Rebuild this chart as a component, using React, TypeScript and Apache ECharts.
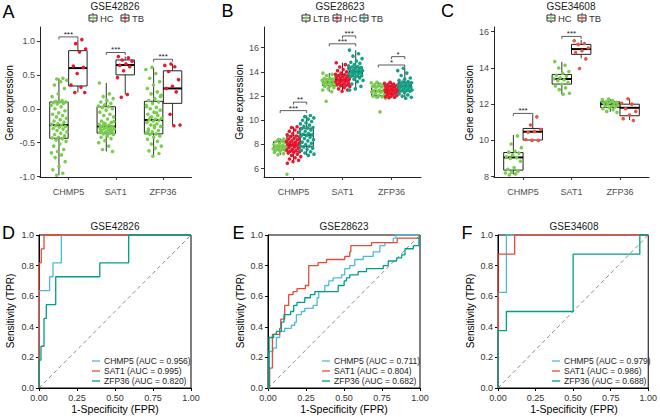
import React, { useEffect, useRef } from "react";
import * as echarts from "echarts";

const FONT = "Liberation Sans, Arial, Helvetica, sans-serif";
const genes = ["CHMP5", "SAT1", "ZFP36"];

// ---------- Panel A: GSE42826 ----------
const aGroups = ["HC", "TB"];
const aHcPts = [
  [0.45, 0.44, 0.42, 0.4, 0.35, 0.3, 0.22, 0.18, 0.12, 0.11, 0.1, 0.1, 0.09, 0.08, 0.07, 0.05, 0.03, 0.0, -0.03, -0.06, -0.08, -0.1, -0.12, -0.14, -0.16, -0.18, -0.2, -0.22, -0.23, -0.24, -0.25, -0.26, -0.27, -0.29, -0.3, -0.32, -0.34, -0.36, -0.38, -0.4, -0.42, -0.43, -0.44, -0.46, -0.48, -0.52, -0.55, -0.6, -0.63, -0.65, -0.68, -0.72, -0.78, -0.85, -0.9, -0.95, -0.98],
  [0.38, 0.22, 0.18, 0.15, 0.12, 0.1, 0.08, 0.06, 0.04, 0.03, 0.02, 0.0, -0.02, -0.05, -0.08, -0.1, -0.12, -0.15, -0.18, -0.2, -0.22, -0.23, -0.24, -0.25, -0.26, -0.26, -0.27, -0.28, -0.29, -0.3, -0.31, -0.32, -0.33, -0.34, -0.35, -0.36, -0.37, -0.38, -0.4, -0.42, -0.44, -0.47, -0.5, -0.55, -0.6, -0.63, -0.27, -0.3, -0.33, -0.21, -0.19, -0.36, -0.35, -0.31],
  [0.61, 0.58, 0.52, 0.45, 0.4, 0.35, 0.3, 0.25, 0.22, 0.2, 0.15, 0.12, 0.1, 0.08, 0.05, 0.02, 0.0, -0.02, -0.05, -0.08, -0.1, -0.12, -0.14, -0.15, -0.16, -0.17, -0.18, -0.2, -0.22, -0.24, -0.26, -0.28, -0.3, -0.32, -0.34, -0.36, -0.37, -0.38, -0.4, -0.42, -0.45, -0.48, -0.52, -0.55, -0.58, -0.62, -0.66, -0.7, 0.03, -0.06, -0.13, 0.18, -0.25, -0.33],
];
const aTbPts = [
  [1.02, 0.96, 0.88, 0.84, 0.63, 0.61, 0.52, 0.35, 0.32, 0.24, 0.24],
  [0.77, 0.75, 0.72, 0.7, 0.66, 0.64, 0.62, 0.56, 0.46, 0.21, 0.17],
  [0.66, 0.64, 0.62, 0.55, 0.43, 0.33, 0.3, 0.25, -0.08, -0.24, -0.25],
];
// [min, q1, median, q3, max]
const aHcBox = [[-0.98, -0.435, -0.24, 0.1, 0.45], [-0.63, -0.36, -0.26, 0.03, 0.38], [-0.7, -0.37, -0.165, 0.11, 0.61]];
const aTbBox = [[0.24, 0.336, 0.6, 0.857, 1.02], [0.21, 0.5, 0.645, 0.72, 0.77], [-0.24, 0.08, 0.3, 0.56, 0.66]];
// [gene, fromGroup, toGroup, y]
const aSig = [[0, 0, 1, 1.06], [1, 0, 1, 0.83], [2, 0, 1, 0.73]];
const aSigLabels = ["***", "***", "***"];
const aTicks = [-1, -0.5, 0, 0.5, 1];

// ---------- Panel B: GSE28623 ----------
const bGroups = ["LTB", "HC", "TB"];
const bLtbPts = [
  [8.45, 8.4, 8.35, 8.3, 8.25, 8.2, 8.1, 8.0, 7.95, 7.9, 7.85, 7.82, 7.8, 7.75, 7.7, 7.65, 7.6, 7.55, 7.5, 7.45, 7.35, 7.25, 7.15, 5.54],
  [13.9, 13.8, 13.7, 13.6, 13.5, 13.45, 13.4, 13.35, 13.3, 13.25, 13.2, 13.15, 13.1, 13.05, 13.0, 12.95, 12.9, 12.85, 12.8, 12.7, 12.6, 12.5, 12.36, 11.57],
  [13.14, 13.1, 13.0, 12.95, 12.9, 12.85, 12.8, 12.75, 12.7, 12.6, 12.5, 12.45, 12.42, 12.4, 12.35, 12.3, 12.2, 12.1, 12.05, 12.0, 11.95, 11.9, 11.82, 10.7],
];
const bHcPts = [
  [9.47, 9.4, 9.3, 9.2, 9.1, 9.0, 8.9, 8.8, 8.7, 8.65, 8.6, 8.5, 8.45, 8.4, 8.3, 8.25, 8.2, 8.15, 8.1, 8.05, 8.0, 7.95, 7.9, 7.85, 7.8, 7.75, 7.7, 7.6, 7.55, 7.5, 7.45, 7.4, 7.35, 7.3, 7.2, 7.1, 7.0, 6.9, 6.8, 6.7, 6.6, 6.45],
  [14.76, 14.6, 14.4, 14.3, 14.2, 14.1, 14.0, 13.9, 13.8, 13.75, 13.7, 13.65, 13.6, 13.55, 13.5, 13.45, 13.4, 13.35, 13.33, 13.3, 13.25, 13.2, 13.15, 13.1, 13.05, 13.0, 12.95, 12.9, 12.85, 12.8, 12.7, 12.6, 12.5, 12.4],
  [13.14, 13.05, 13.0, 12.95, 12.9, 12.85, 12.82, 12.8, 12.75, 12.7, 12.65, 12.6, 12.55, 12.52, 12.5, 12.48, 12.45, 12.4, 12.35, 12.3, 12.28, 12.25, 12.2, 12.15, 12.1, 12.05, 12.0, 11.95, 11.9, 11.87],
];
const bTbPts = [
  [10.4, 10.3, 10.2, 10.1, 10.0, 9.9, 9.8, 9.7, 9.6, 9.5, 9.4, 9.35, 9.3, 9.2, 9.1, 9.0, 8.9, 8.85, 8.8, 8.75, 8.7, 8.6, 8.5, 8.4, 8.3, 8.2, 8.1, 8.0, 7.9, 7.85, 7.8, 7.7, 7.6, 7.5, 7.4, 7.3, 7.2, 7.1],
  [15.8, 15.5, 15.3, 15.1, 14.9, 14.8, 14.7, 14.6, 14.5, 14.45, 14.4, 14.35, 14.3, 14.25, 14.2, 14.15, 14.1, 14.05, 14.0, 13.95, 13.9, 13.85, 13.8, 13.75, 13.7, 13.65, 13.6, 13.5, 13.4, 13.3, 13.2, 13.0, 12.8, 12.6, 12.5],
  [14.3, 14.1, 13.9, 13.7, 13.5, 13.4, 13.3, 13.2, 13.15, 13.1, 13.05, 13.0, 12.95, 12.9, 12.85, 12.83, 12.8, 12.75, 12.7, 12.65, 12.6, 12.55, 12.5, 12.45, 12.42, 12.4, 12.3, 12.2, 12.1, 12.0, 11.9, 11.82],
];
const bLtbBox = [[7.13, 7.54, 7.82, 8.23, 8.5], [12.36, 12.86, 13.14, 13.41, 13.9], [11.82, 12.03, 12.42, 12.78, 13.14]];
const bHcBox = [[6.45, 7.4, 7.95, 8.7, 9.47], [12.37, 12.92, 13.33, 13.74, 14.76], [11.87, 12.23, 12.5, 12.83, 13.14]];
const bTbBox = [[7.1, 7.85, 8.8, 9.35, 10.4], [12.5, 13.6, 14.02, 14.38, 15.8], [11.82, 12.42, 12.83, 13.14, 14.3]];
const bSig = [[0, 0, 2, 10.8], [0, 1, 2, 11.5], [1, 0, 2, 16.32], [1, 1, 2, 16.97], [2, 0, 2, 14.57], [2, 1, 2, 15.26]];
const bSigLabels = ["***", "**", "***", "***", "*", "*"];
const bTicks = [6, 8, 10, 12, 14, 16];

// ---------- Panel C: GSE34608 ----------
const cGroups = ["HC", "TB"];
const cHcPts = [
  [10.25, 9.8, 9.6, 9.4, 9.35, 9.3, 9.2, 9.1, 9.05, 9.0, 8.85, 8.5, 8.4, 8.3, 8.25, 8.2, 8.15, 8.1],
  [14.35, 14.15, 14.0, 13.8, 13.7, 13.6, 13.55, 13.45, 13.4, 13.35, 13.3, 13.2, 13.1, 13.0, 12.9, 12.8, 12.6, 12.55],
  [12.28, 12.25, 12.2, 12.15, 12.1, 12.1, 12.05, 12.0, 12.0, 11.95, 11.9, 11.9, 11.85, 11.8, 11.75, 11.7, 11.6, 11.55],
];
const cTbPts = [
  [11.3, 10.85, 10.6, 10.5, 10.45, 10.0, 10.0, 10.05],
  [15.5, 15.35, 15.3, 15.1, 14.95, 14.85, 14.5, 13.97],
  [12.3, 12.05, 12.0, 11.75, 11.6, 11.4, 11.2, 11.1],
];
const cHcBox = [[8.12, 8.36, 9.06, 9.33, 10.3], [12.54, 13.11, 13.39, 13.64, 14.34], [11.58, 11.82, 12.0, 12.13, 12.28]];
const cTbBox = [[10.0, 10.02, 10.48, 10.66, 11.36], [14.53, 14.75, 15.04, 15.3, 15.54], [11.12, 11.36, 11.8, 12.0, 12.32]];
const cSig = [[0, 0, 1, 11.49], [1, 0, 1, 15.74]];
const cSigLabels = ["***", "***"];
const cTicks = [8, 10, 12, 14, 16];

// ---------- ROC curves (FPR, TPR) ----------
const rocNames = ["CHMP5", "SAT1", "ZFP36"];
const dAuc = ["0.956", "0.995", "0.820"];
const eAuc = ["0.711", "0.804", "0.682"];
const fAuc = ["0.979", "0.986", "0.688"];
const dChmp5 = [[0, 0], [0, 0.636], [0.07, 0.727], [0.092, 0.818], [0.147, 1], [1, 1]];
const dSat1 = [[0, 0], [0, 0.818], [0.015, 0.909], [0.033, 1], [1, 1]];
const dZfp36 = [[0, 0], [0, 0.182], [0.013, 0.273], [0.033, 0.455], [0.048, 0.545], [0.11, 0.727], [0.4, 0.818], [0.59, 1], [1, 1]];
const eChmp5 = [[0, 0], [0.007, 0.24], [0.033, 0.26], [0.055, 0.33], [0.077, 0.37], [0.11, 0.39], [0.154, 0.41], [0.176, 0.43], [0.187, 0.48], [0.22, 0.5], [0.242, 0.52], [0.297, 0.54], [0.323, 0.59], [0.334, 0.63], [0.374, 0.67], [0.4, 0.7], [0.429, 0.72], [0.484, 0.74], [0.505, 0.78], [0.538, 0.8], [0.571, 0.84], [0.626, 0.86], [0.692, 0.89], [0.736, 0.93], [0.769, 0.95], [0.824, 0.98], [0.842, 1], [1, 1]];
const eSat1 = [[0, 0], [0.011, 0.13], [0.029, 0.35], [0.077, 0.39], [0.084, 0.45], [0.11, 0.54], [0.136, 0.61], [0.165, 0.63], [0.191, 0.65], [0.246, 0.67], [0.268, 0.8], [0.33, 0.82], [0.385, 0.84], [0.505, 0.86], [0.538, 0.89], [0.545, 0.93], [0.681, 0.95], [0.85, 0.98], [0.996, 1], [1, 1]];
const eZfp36 = [[0, 0], [0.007, 0.33], [0.037, 0.35], [0.055, 0.37], [0.088, 0.43], [0.105, 0.48], [0.149, 0.5], [0.169, 0.54], [0.191, 0.56], [0.242, 0.59], [0.279, 0.61], [0.308, 0.63], [0.462, 0.67], [0.501, 0.7], [0.516, 0.72], [0.538, 0.74], [0.593, 0.76], [0.648, 0.78], [0.758, 0.8], [0.791, 0.83], [0.846, 0.85], [0.879, 0.87], [0.901, 0.91], [0.956, 0.93], [0.993, 0.98], [1, 1]];
const fChmp5 = [[0, 0], [0, 0.625], [0.056, 1], [1, 1]];
const fSat1 = [[0, 0], [0, 0.875], [0.111, 1], [1, 1]];
const fZfp36 = [[0, 0], [0, 0.375], [0.056, 0.5], [0.5, 0.875], [0.944, 1], [1, 1]];

const GREEN = "#7ACC4E";
const RED = "#E8162E";
const TEAL = "#13A085";
const CRED = "#EE5240";
const ROC_COLORS = ["#4DBBD5", "#E64B35", "#00A087"];

const jit = (i: number, w: number) => ((((i + 1) * 0.6180339887 + 0.13) % 1) - 0.5) * w;

function boxRender(_params: any, api: any) {
  const x = api.value(0);
  const w = api.value(6);
  const c = (v: number) => api.coord([x, v]);
  const cx = c(api.value(1))[0];
  const yMin = c(api.value(1))[1];
  const yQ1 = c(api.value(2))[1];
  const yMed = c(api.value(3))[1];
  const yQ3 = c(api.value(4))[1];
  const yMax = c(api.value(5))[1];
  const hw = api.size([w, 0])[0] / 2;
  const st = { stroke: "#333", lineWidth: 1 };
  return {
    type: "group",
    children: [
      { type: "line", shape: { x1: cx, y1: yQ3, x2: cx, y2: yMax }, style: st },
      { type: "line", shape: { x1: cx, y1: yQ1, x2: cx, y2: yMin }, style: st },
      { type: "rect", shape: { x: cx - hw, y: yQ3, width: 2 * hw, height: yQ1 - yQ3 }, style: { fill: "none", stroke: "#222", lineWidth: 1 } },
      { type: "line", shape: { x1: cx - hw, y1: yMed, x2: cx + hw, y2: yMed }, style: { stroke: "#000", lineWidth: 2 } },
    ],
  };
}

function makeSigRender(labels: string[]) {
  return (params: any, api: any) => {
    const p1 = api.coord([api.value(0), api.value(2)]);
    const p2 = api.coord([api.value(1), api.value(2)]);
    return {
      type: "group",
      children: [
        {
          type: "polyline",
          shape: { points: [[p1[0], p1[1] + 2.5], [p1[0], p1[1]], [p2[0], p2[1]], [p2[0], p2[1] + 2.5]] },
          style: { fill: "none", stroke: "#333", lineWidth: 0.8 },
        },
        {
          type: "text",
          x: (p1[0] + p2[0]) / 2,
          y: p1[1] - 2.5,
          style: { text: labels[params.dataIndex], align: "center", verticalAlign: "middle", textAlign: "center", textVerticalAlign: "middle", fontSize: 8, fontFamily: FONT, fill: "#222" },
        },
      ],
    };
  };
}

function boxPanel(
  gi: number,
  boxes: number[][][],
  pts: number[][][],
  colors: string[],
  offsets: number[],
  boxW: number,
  jw: number,
  sig: number[][],
  sigLabels: string[]
) {
  const series: any[] = [];
  const boxData: number[][] = [];
  boxes.forEach((grp, g) => grp.forEach((s, k) => boxData.push([k + 1 + offsets[g], ...s, boxW])));
  series.push({ type: "custom", xAxisIndex: gi, yAxisIndex: gi, renderItem: boxRender, data: boxData, z: 2, silent: true, clip: false });
  pts.forEach((grp, g) => {
    const data: number[][] = [];
    grp.forEach((vals, k) => vals.forEach((v, i) => data.push([k + 1 + offsets[g] + jit(i + k * 7, jw), v])));
    series.push({ type: "scatter", xAxisIndex: gi, yAxisIndex: gi, data, symbolSize: 3.6, itemStyle: { color: colors[g], opacity: 1 }, z: 3, silent: true });
  });
  const sigData = sig.map((s) => [s[0] + 1 + offsets[s[1]], s[0] + 1 + offsets[s[2]], s[3]]);
  series.push({ type: "custom", xAxisIndex: gi, yAxisIndex: gi, renderItem: makeSigRender(sigLabels), data: sigData, z: 4, silent: true, clip: false });
  return series;
}

function boxAxes(gi: number, ymin: number, ymax: number, ticks: number[], dec: number) {
  const xAxis = {
    type: "value", gridIndex: gi, min: 0.4, max: 3.6,
    axisLine: { show: true, onZero: false, lineStyle: { color: "#222", width: 1 } },
    axisTick: { show: true, customValues: [1, 2, 3], length: 3, lineStyle: { color: "#333" } },
    axisLabel: { show: true, customValues: [1, 2, 3], formatter: (v: number) => genes[Math.round(v) - 1], color: "#4D4D4D", fontSize: 9, fontFamily: FONT, margin: 10 },
    splitLine: { show: false },
  };
  const yAxis = {
    type: "value", gridIndex: gi, min: ymin, max: ymax,
    axisLine: { show: true, onZero: false, lineStyle: { color: "#222", width: 1 } },
    axisTick: { show: true, customValues: ticks, length: 3, lineStyle: { color: "#333" } },
    axisLabel: { show: true, customValues: ticks, formatter: (v: number) => v.toFixed(dec), color: "#4D4D4D", fontSize: 9, fontFamily: FONT, margin: 5 },
    splitLine: { show: false },
  };
  return { xAxis, yAxis };
}

function rocAxes(gi: number) {
  const common = {
    type: "value", gridIndex: gi, min: 0, max: 1,
    axisLine: { show: true, onZero: false, lineStyle: { color: "#000", width: 1 } },
    axisTick: { show: true, length: 3, lineStyle: { color: "#000" } },
    splitLine: { show: false },
  };
  return {
    xAxis: { ...common, interval: 0.25, axisLabel: { formatter: (v: number) => v.toFixed(2), color: "#333", fontSize: 9, fontFamily: FONT, margin: 5 } },
    yAxis: { ...common, interval: 0.2, axisLabel: { formatter: (v: number) => v.toFixed(1), color: "#333", fontSize: 9, fontFamily: FONT, margin: 5 } },
  };
}

function rocSeries(gi: number, curves: number[][][]) {
  const s: any[] = [
    { type: "line", xAxisIndex: gi, yAxisIndex: gi, data: [[0, 0], [1, 1]], symbol: "none", lineStyle: { color: "#8C8C8C", width: 1, type: [4, 3] }, z: 2, silent: true },
  ];
  curves.forEach((c, i) => {
    s.push({ type: "line", xAxisIndex: gi, yAxisIndex: gi, data: c, step: "end", symbol: "none", showSymbol: false, lineStyle: { color: ROC_COLORS[i], width: 1.3 }, itemStyle: { color: ROC_COLORS[i] }, z: 3, silent: true, clip: false });
  });
  return s;
}

function txt(x: number, y: number, text: string, size: number, align = "center", opts: any = {}) {
  return {
    type: "text", x, y, rotation: opts.rotation || 0, silent: true,
    style: { text, fontSize: size, fontFamily: FONT, fill: opts.fill || "#000", align, verticalAlign: "middle", textAlign: align, textVerticalAlign: "middle", fontWeight: opts.weight || "normal" },
  };
}

function boxLegend(items: { x: number; name: string; color: string }[], y: number) {
  const out: any[] = [];
  items.forEach((it) => {
    out.push({ type: "line", silent: true, shape: { x1: it.x, y1: y - 5, x2: it.x, y2: y + 5 }, style: { stroke: "#333", lineWidth: 1 } });
    out.push({ type: "rect", silent: true, shape: { x: it.x - 4, y: y - 3, width: 8, height: 6 }, style: { fill: "#fff", stroke: "#333", lineWidth: 1 } });
    out.push({ type: "line", silent: true, shape: { x1: it.x - 4, y1: y, x2: it.x + 4, y2: y }, style: { stroke: "#333", lineWidth: 1 } });
    out.push({ type: "circle", silent: true, shape: { cx: it.x, cy: y, r: 1.6 }, style: { fill: it.color } });
    out.push(txt(it.x + 7, y, it.name, 9.5, "left", { fill: "#333" }));
  });
  return out;
}

function rocLegend(x0: number, aucs: string[]) {
  const out: any[] = [];
  aucs.forEach((a, i) => {
    const y = 361 + i * 10;
    out.push({ type: "line", silent: true, shape: { x1: x0, y1: y, x2: x0 + 8, y2: y }, style: { stroke: ROC_COLORS[i], lineWidth: 1.3 } });
    out.push(txt(x0 + 12, y, `${rocNames[i]} (AUC = ${a})`, 8.5, "left", { fill: "#222" }));
  });
  return out;
}

export default function App() {
  const ref = useRef<HTMLDivElement>(null);
  useEffect(() => {
    if (!ref.current) return;
    const chart = echarts.init(ref.current, undefined, { renderer: "svg" });
    const A = boxAxes(0, -1.006, 1.206, aTicks, 1);
    const B = boxAxes(1, 5.314, 17.71, bTicks, 0);
    const C = boxAxes(2, 7.98, 16.26, cTicks, 0);
    const D = rocAxes(3);
    const E = rocAxes(4);
    const F = rocAxes(5);
    const rocGrid = { show: true, borderColor: "#000", borderWidth: 1, backgroundColor: "transparent" };
    const option: any = {
      animation: false,
      backgroundColor: "#fff",
      grid: [
        { left: 40, top: 27, width: 151.5, height: 150 },
        { left: 264, top: 27, width: 157, height: 150 },
        { left: 494, top: 27, width: 155, height: 150 },
        { left: 39, top: 235, width: 152, height: 153, ...rocGrid },
        { left: 268, top: 235, width: 152, height: 153, ...rocGrid },
        { left: 498, top: 235, width: 152, height: 153, ...rocGrid },
      ],
      xAxis: [A.xAxis, B.xAxis, C.xAxis, D.xAxis, E.xAxis, F.xAxis],
      yAxis: [A.yAxis, B.yAxis, C.yAxis, D.yAxis, E.yAxis, F.yAxis],
      series: [
        ...boxPanel(0, [aHcBox, aTbBox], [aHcPts, aTbPts], [GREEN, RED], [-0.2, 0.2], 0.39, 0.34, aSig, aSigLabels),
        ...boxPanel(1, [bLtbBox, bHcBox, bTbBox], [bLtbPts, bHcPts, bTbPts], [GREEN, RED, TEAL], [-0.27, 0, 0.27], 0.27, 0.3, bSig, bSigLabels),
        ...boxPanel(2, [cHcBox, cTbBox], [cHcPts, cTbPts], [GREEN, CRED], [-0.2, 0.2], 0.4, 0.34, cSig, cSigLabels),
        ...rocSeries(3, [dChmp5, dSat1, dZfp36]),
        ...rocSeries(4, [eChmp5, eSat1, eZfp36]),
        ...rocSeries(5, [fChmp5, fSat1, fZfp36]),
      ],
      graphic: [
        txt(8.5, 12, "A", 18),
        txt(227.5, 10.5, "B", 18),
        txt(447.5, 10.5, "C", 18),
        txt(8.5, 233, "D", 18),
        txt(238.5, 233, "E", 18),
        txt(467, 233, "F", 18),
        txt(115, 6, "GSE42826", 10, "center", { fill: "#1a1a1a" }),
        txt(340, 6, "GSE28623", 10, "center", { fill: "#1a1a1a" }),
        txt(571, 6, "GSE34608", 10, "center", { fill: "#1a1a1a" }),
        ...boxLegend([{ x: 93, name: aGroups[0], color: GREEN }, { x: 125, name: aGroups[1], color: RED }], 18),
        ...boxLegend([{ x: 306, name: bGroups[0], color: GREEN }, { x: 337, name: bGroups[1], color: RED }, { x: 364, name: bGroups[2], color: TEAL }], 18),
        ...boxLegend([{ x: 551, name: cGroups[0], color: GREEN }, { x: 582, name: cGroups[1], color: CRED }], 18),
        txt(9, 103, "Gene expression", 10, "center", { rotation: Math.PI / 2 }),
        txt(239, 102, "Gene expression", 10, "center", { rotation: Math.PI / 2 }),
        txt(469, 103, "Gene expression", 10, "center", { rotation: Math.PI / 2 }),
        txt(115, 226.5, "GSE42826", 10, "center", { fill: "#1a1a1a" }),
        txt(344, 226.5, "GSE28623", 10, "center", { fill: "#1a1a1a" }),
        txt(574, 226.5, "GSE34608", 10, "center", { fill: "#1a1a1a" }),
        txt(10, 311, "Sensitivity (TPR)", 10, "center", { rotation: Math.PI / 2 }),
        txt(240, 311, "Sensitivity (TPR)", 10, "center", { rotation: Math.PI / 2 }),
        txt(470, 311, "Sensitivity (TPR)", 10, "center", { rotation: Math.PI / 2 }),
        txt(115, 409, "1-Specificity (FPR)", 10.5),
        txt(344, 409, "1-Specificity (FPR)", 10.5),
        txt(574, 409, "1-Specificity (FPR)", 10.5),
        ...rocLegend(92, dAuc),
        ...rocLegend(322, eAuc),
        ...rocLegend(552, fAuc),
      ],
    };
    chart.setOption(option);
    return () => chart.dispose();
  }, []);
  return <div ref={ref} style={{ position: "fixed", left: 0, top: 0, width: 660, height: 417, background: "#fff" }} />;
}
